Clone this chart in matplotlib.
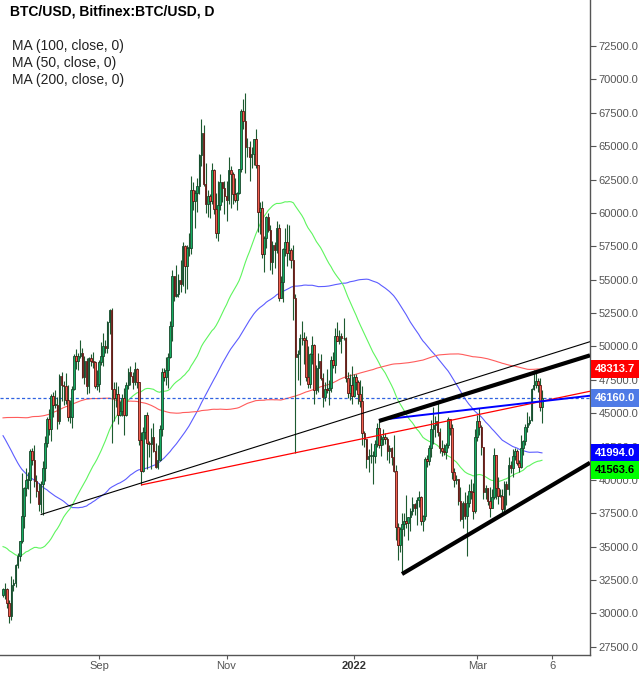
import numpy as np
import pandas as pd
import matplotlib
matplotlib.use("Agg")
import matplotlib.pyplot as plt
import matplotlib.dates as mdates

plt.rcParams['font.family'] = ['Liberation Sans', 'DejaVu Sans']

# ---------------- data (thousand USD) ----------------
# daily closes before the visible window (used only for the moving averages), 2020-12-30 .. 2021-07-16
hist_start = "2020-12-30"
hist_close = [
    28.9, 29.0,
    29.4, 32.2, 33.0, 32.0, 34.0, 36.8, 39.4, 40.6, 40.2, 38.2, 35.5, 34.0, 37.4, 39.2, 36.8,
    36.2, 35.8, 36.6, 36.0, 35.5, 30.8, 33.0, 32.1, 32.3, 32.4, 32.5, 30.4, 33.5, 34.3, 34.3, 33.1,
    33.5, 35.5, 37.7, 36.9, 38.3, 39.3, 38.9, 46.4, 46.5, 44.8, 48.0, 47.4, 47.2, 48.6, 47.9,
    49.2, 52.1, 51.6, 55.9, 55.9, 57.5, 54.2, 48.9, 49.7, 47.1, 46.3, 46.2, 45.1,
    49.6, 48.4, 50.5, 48.4, 48.9, 48.9, 51.2, 52.4, 54.9, 55.9, 57.5, 57.3, 61.2, 59.0, 55.6,
    56.9, 58.9, 57.6, 58.3, 58.1, 57.4, 54.5, 54.3, 52.3, 51.3, 55.1, 55.9, 55.8, 57.6, 58.8, 58.9,
    59.0, 59.1, 57.6, 58.7, 58.9, 58.0, 56.0, 58.1, 58.3, 59.8, 60.2, 59.8, 63.5, 62.9, 63.1,
    61.3, 60.1, 56.2, 55.7, 56.5, 54.0, 51.7, 51.1, 50.0, 49.0, 54.0, 55.0, 54.8, 53.6, 57.7,
    57.8, 56.6, 57.2, 53.2, 57.5, 56.4, 57.4, 58.9, 58.3, 55.8, 56.7, 49.2, 49.7, 49.9, 46.8,
    46.7, 43.5, 42.9, 37.0, 40.8, 37.5, 37.7, 34.7, 38.8, 38.4, 39.3, 38.4, 35.7, 34.6, 35.7, 37.3,
    36.7, 37.6, 39.2, 36.9, 35.5, 35.8, 33.6, 33.4, 37.4, 36.7, 37.3, 35.6, 39.1, 40.5, 40.2,
    38.3, 38.1, 35.8, 35.5, 35.6, 31.7, 32.5, 33.7, 34.7, 31.6, 32.2, 34.6, 34.5, 35.9, 35.0,
    33.6, 33.8, 34.7, 35.3, 33.7, 34.2, 33.9, 32.9, 33.8, 33.5, 34.3, 33.1, 32.7, 32.8, 31.9, 31.4,
]

# visible daily candles, 2021-07-17 .. 2022-04-01
start_date = "2021-07-17"
close = [
    # Jul 17-31
    31.8, 31.8, 30.8, 29.8, 32.1, 32.3, 33.6, 34.3, 35.4, 37.3, 39.4, 40.0, 40.0, 42.2, 41.5,
    # Aug
    39.9, 39.2, 38.2, 39.7, 40.9, 42.8, 44.6, 43.8, 46.3, 45.6, 45.6, 44.4, 47.8, 47.1, 47.0,
    46.0, 44.7, 44.7, 46.8, 49.3, 48.9, 49.3, 49.5, 47.7, 48.9, 47.0, 49.1, 48.9, 48.8, 47.0, 47.2,
    # Sep
    48.8, 49.3, 50.0, 49.9, 51.8, 52.7, 46.8, 46.1, 46.4, 44.9, 45.2, 46.1, 44.9, 47.1, 48.1,
    47.8, 47.3, 48.3, 47.3, 43.0, 40.7, 43.6, 44.9, 42.8, 42.7, 43.2, 42.2, 41.0, 41.5, 43.8,
    # Oct
    48.1, 47.7, 48.2, 49.2, 51.5, 55.3, 53.8, 53.9, 55.0, 54.7, 57.5, 56.0, 57.4, 57.4, 61.7,
    60.9, 61.5, 62.0, 64.3, 66.0, 62.2, 60.7, 61.3, 60.9, 63.2, 60.3, 58.5, 60.6, 62.3, 61.9, 61.3,
    # Nov
    61.0, 63.2, 62.9, 61.4, 61.0, 61.5, 63.3, 67.6, 66.9, 64.9, 64.9, 64.2, 64.4, 65.5, 63.6,
    60.1, 60.4, 56.9, 58.1, 59.7, 58.7, 56.3, 57.6, 57.2, 58.9, 53.6, 54.8, 57.3, 57.8, 57.0,
    # Dec
    57.2, 56.5, 53.6, 49.2, 49.4, 50.6, 50.6, 50.5, 47.7, 47.2, 49.4, 50.1, 46.7, 48.4, 48.9,
    47.6, 46.2, 46.8, 46.7, 46.9, 49.0, 48.6, 50.8, 50.4, 50.8, 50.6, 50.6, 47.6, 46.5, 47.1, 46.3,
    # Jan
    47.7, 47.3, 46.4, 45.9, 43.5, 43.1, 41.6, 41.8, 41.8, 41.8, 42.7, 43.9, 42.6, 43.1, 43.2,
    43.1, 42.2, 42.4, 41.7, 40.7, 36.5, 35.1, 36.3, 36.7, 36.9, 36.8, 37.2, 37.7, 38.2, 37.9, 38.5,
    # Feb
    38.7, 36.9, 37.3, 41.6, 41.4, 42.4, 43.8, 44.1, 44.4, 43.6, 42.4, 42.2, 42.1, 42.6, 44.6,
    43.9, 40.6, 40.0, 40.1, 38.4, 37.1, 38.3, 37.3, 38.3, 39.2, 39.1, 37.7, 43.2,
    # Mar
    44.4, 44.0, 42.5, 39.1, 39.4, 38.4, 37.9, 38.7, 41.9, 39.4, 38.8, 38.8, 37.8, 39.7, 39.3,
    41.1, 40.9, 41.8, 42.2, 41.3, 41.0, 42.4, 42.9, 44.0, 44.3, 44.5, 46.8, 47.1, 47.4, 47.1, 45.5,
    # Apr 1
    46.16,
]
high = [
    31.9, 32.3, 31.9, 31.0, 32.8, 32.6, 33.7, 34.5, 35.4, 40.5, 39.5, 40.9, 40.6, 42.3, 42.4,
    42.6, 40.4, 39.8, 39.9, 41.4, 43.3, 44.7, 45.3, 46.4, 46.6, 46.7, 46.2, 47.9, 48.1, 47.4,
    48.0, 47.1, 46.0, 47.0, 49.4, 49.8, 49.5, 50.5, 49.9, 49.3, 49.1, 49.2, 49.4, 49.6, 48.9, 48.2,
    49.0, 50.3, 51.0, 50.5, 51.9, 52.8, 52.9, 47.3, 47.3, 47.0, 45.9, 46.4, 46.9, 47.3, 48.4,
    48.5, 48.1, 48.8, 48.4, 47.3, 43.6, 44.0, 44.9, 45.1, 42.9, 43.9, 44.3, 42.8, 42.6, 44.1,
    48.4, 48.4, 49.2, 49.5, 51.9, 55.7, 55.3, 56.1, 55.4, 56.5, 57.8, 57.6, 57.6, 58.5, 62.8,
    62.3, 61.7, 62.6, 64.4, 67.0, 66.6, 63.7, 61.7, 61.4, 63.7, 63.3, 61.5, 62.4, 62.9, 62.3, 62.4,
    62.4, 64.2, 63.5, 63.1, 62.6, 61.6, 63.3, 67.8, 68.5, 69.0, 65.6, 65.4, 64.9, 65.5, 66.3,
    63.6, 60.8, 60.9, 58.3, 59.8, 60.0, 59.1, 57.9, 57.8, 59.4, 59.2, 55.3, 57.4, 58.9, 59.2,
    59.1, 57.4, 57.6, 53.9, 49.7, 50.9, 51.9, 51.1, 50.8, 50.0, 49.5, 50.8, 50.2, 48.6, 49.5,
    49.4, 48.0, 47.3, 48.3, 47.5, 49.3, 49.6, 51.4, 51.8, 51.2, 51.0, 52.1, 50.7, 48.1, 47.9, 48.5,
    47.9, 47.9, 47.5, 47.5, 47.0, 43.7, 43.1, 42.3, 42.8, 42.2, 43.0, 44.3, 44.4, 43.4, 43.8,
    43.5, 43.2, 42.6, 42.5, 43.4, 41.1, 36.8, 36.5, 37.5, 37.5, 38.9, 37.2, 37.9, 38.7, 38.3, 38.7,
    39.2, 38.8, 37.4, 41.7, 41.9, 42.6, 44.5, 45.5, 44.8, 45.8, 43.9, 43.0, 42.7, 42.8, 44.7,
    44.6, 44.2, 40.9, 40.4, 40.1, 39.5, 38.4, 39.1, 38.9, 39.7, 40.1, 39.8, 43.8,
    44.9, 45.4, 44.1, 42.5, 39.6, 39.4, 39.5, 39.3, 42.4, 41.9, 40.2, 39.3, 39.3, 39.9, 39.9,
    41.7, 41.4, 42.3, 42.4, 42.3, 41.5, 43.4, 43.0, 44.2, 45.1, 44.8, 46.9, 48.2, 48.1, 47.6, 47.6,
    46.7,
]
low = [
    31.2, 31.1, 30.4, 29.3, 29.5, 31.7, 32.0, 33.4, 33.9, 35.3, 36.4, 38.8, 39.3, 38.3, 41.1,
    39.5, 38.7, 37.7, 37.5, 37.4, 39.9, 42.5, 43.4, 42.9, 44.7, 45.4, 43.8, 44.2, 45.9, 45.6,
    45.7, 44.4, 44.3, 43.9, 46.7, 48.3, 48.2, 49.1, 47.6, 47.2, 46.4, 46.5, 48.5, 48.4, 46.9, 46.7,
    46.6, 48.6, 48.5, 49.5, 49.5, 50.9, 42.8, 44.4, 45.5, 44.2, 44.8, 44.8, 43.4, 44.8, 46.8,
    47.1, 46.8, 47.1, 46.9, 42.6, 39.6, 40.6, 43.1, 40.8, 41.7, 40.8, 42.1, 40.9, 40.8, 41.4,
    43.3, 47.4, 47.1, 46.9, 49.1, 50.4, 53.4, 53.7, 53.7, 54.1, 54.5, 54.0, 54.3, 56.8, 56.9,
    60.2, 58.9, 60.1, 61.4, 63.5, 62.0, 60.0, 59.7, 59.6, 60.7, 59.9, 58.1, 57.9, 60.2, 60.8, 59.9,
    59.4, 60.7, 60.4, 60.7, 60.8, 60.2, 61.4, 63.1, 66.3, 63.0, 64.2, 62.4, 63.4, 63.6, 63.4,
    58.6, 58.4, 56.6, 55.6, 57.4, 58.6, 55.7, 55.4, 55.9, 57.0, 53.4, 53.6, 53.3, 56.8, 56.0,
    56.5, 55.9, 52.0, 42.0, 47.5, 47.1, 50.1, 48.7, 47.4, 46.9, 46.9, 48.7, 45.7, 46.4, 46.6,
    47.5, 45.5, 45.9, 46.5, 45.6, 46.6, 48.4, 48.0, 50.4, 50.2, 49.5, 50.5, 47.3, 46.1, 46.0, 45.7,
    46.2, 46.7, 45.7, 45.5, 42.6, 42.5, 40.9, 40.6, 41.3, 39.7, 41.3, 42.5, 42.4, 41.8, 42.6,
    42.7, 41.5, 41.3, 41.1, 40.6, 35.5, 34.0, 34.6, 33.0, 35.8, 36.4, 35.5, 36.2, 37.4, 37.4, 36.6,
    38.0, 36.6, 36.2, 37.0, 41.0, 41.1, 41.7, 42.7, 43.2, 43.3, 42.0, 41.8, 41.9, 41.6, 42.4,
    43.4, 40.1, 39.5, 39.7, 38.1, 36.9, 36.4, 37.1, 34.3, 38.0, 38.6, 37.1, 37.5,
    42.9, 43.4, 41.9, 38.6, 38.6, 38.1, 37.2, 37.9, 38.6, 38.6, 38.2, 38.7, 37.6, 37.6, 38.1,
    38.9, 40.5, 40.2, 41.5, 41.1, 40.6, 40.9, 41.9, 42.6, 43.6, 44.1, 44.4, 46.7, 46.9, 46.6, 45.2,
    44.3,
]

ma_periods = [100, 50, 200]
ma_labels = ["MA (100, close, 0)", "MA (50, close, 0)", "MA (200, close, 0)"]
ma_colors = ["#5c5cff", "#5ef55e", "#ff5c5c"]
ma_last_text = ["41994.0", "41563.6", "48313.7"]
ma_last_value = [41994.0, 41563.6, 48313.7]
ma_box_colors = ["#0000ff", "#00ff00", "#ff0000"]
ma_box_text = ["white", "black", "white"]

last_price = 46160.0
last_price_text = "46160.0"

# drawn trend lines: (date, price) anchor pairs, extended to the right edge
trend_lines = [
    ("2021-08-04", 37400, "2022-03-21", 48680, "black", 0.8),
    ("2021-09-21", 39620, "2022-04-23", 46610, "#ff0000", 0.9),
    ("2022-01-13", 44490, "2022-04-23", 46290, "#0000ff", 1.4),
    ("2022-01-13", 44414, "2022-04-23", 49283, "black", 3.0),
    ("2022-01-24", 32955, "2022-04-23", 41194, "black", 3.0),
]

x_tick_dates = ["2021-09-01", "2021-11-01", "2022-01-01", "2022-03-01", "2022-04-06"]
x_tick_labels = ["Sep", "Nov", "2022", "Mar", "6"]
y_ticks = list(range(27500, 72501, 2500))

# ---------------- build ----------------
c = np.array(close) * 1000
h = np.array(high) * 1000
l = np.array(low) * 1000
hc = np.array(hist_close) * 1000
o = np.concatenate([[hc[-1]], c[:-1]])
dates = pd.date_range(start_date, periods=len(c), freq="D")
x = mdates.date2num(dates.to_pydatetime())

all_close = pd.Series(np.concatenate([hc, c]))
n_hist = len(hc)

W, H = 643, 674
fig = plt.figure(figsize=(W / 100, H / 100), dpi=100)
ax = fig.add_axes([0, (H - 655) / H, 590 / W, 655 / H])

x0 = mdates.date2num(pd.Timestamp("2021-07-20").to_pydatetime())
ax.set_xlim(x0 - 4.45, x0 + 278.0)
ax.set_ylim(26889, 75945)

# moving averages
for p, col in zip(ma_periods, ma_colors):
    ma = all_close.rolling(p).mean().values[n_hist:]
    ax.plot(x, ma, color=col, lw=0.8, zorder=2)

# current price dashed line
ax.axhline(last_price, color="#2f62e0", lw=0.9, ls=(0, (2.5, 1.8)), zorder=2)

# candles
up = c >= o
wick_col = "#1d5a30"
ax.vlines(x, l, h, color=wick_col, lw=0.8, zorder=3)
body_h = np.maximum(np.abs(c - o), 60)
bottoms = np.minimum(o, c)
ax.bar(x[up], body_h[up], bottom=bottoms[up], width=0.78, color="#14ad62",
       edgecolor="#17472b", linewidth=0.6, zorder=4)
ax.bar(x[~up], body_h[~up], bottom=bottoms[~up], width=0.78, color="#f2604f",
       edgecolor="#5a1512", linewidth=0.6, zorder=4)

# trend lines (rays to the right edge)
xr = ax.get_xlim()[1]
for d1, p1, d2, p2, col, lw in trend_lines:
    xa = mdates.date2num(pd.Timestamp(d1).to_pydatetime())
    xb = mdates.date2num(pd.Timestamp(d2).to_pydatetime())
    slope = (p2 - p1) / (xb - xa)
    ax.plot([xa, xr], [p1, p1 + slope * (xr - xa)], color=col, lw=lw,
            solid_capstyle="butt", zorder=5)

# axes styling
for s in ["left", "top"]:
    ax.spines[s].set_visible(False)
for s in ["right", "bottom"]:
    ax.spines[s].set_color("#555555")
    ax.spines[s].set_linewidth(1.0)

ax.yaxis.tick_right()
ax.set_yticks(y_ticks)
ax.set_yticklabels([f"{v:.1f}" for v in y_ticks])
ax.tick_params(axis="y", colors="#555555", labelcolor="#555555", labelsize=8,
               length=4, width=0.8, pad=2)
xt = [mdates.date2num(pd.Timestamp(d).to_pydatetime()) for d in x_tick_dates]
ax.set_xticks(xt)
ax.set_xticklabels(x_tick_labels)
ax.tick_params(axis="x", colors="#555555", labelcolor="#555555", labelsize=8,
               length=3, width=0.8, pad=1)
for lab in ax.get_xticklabels():
    if lab.get_text() == "2022":
        lab.set_fontweight("bold")
        lab.set_color("#333333")

# price boxes on the right axis (pushed apart when they collide, like the platform does)
boxes = [(last_price, last_price_text, "#4f7be6", "white")]
for v, t, bc, tc in zip(ma_last_value, ma_last_text, ma_box_colors, ma_box_text):
    boxes.append((v, t, bc, tc))
boxes.sort(key=lambda b: -b[0])
gap = 17.0
prev = None
for v, t, bc, tc in boxes:
    ypix = ax.transData.transform((x0, v))[1]
    if prev is not None and prev - ypix < gap:
        ypix = prev - gap
    prev = ypix
    fig.text(595 / W, ypix / H, t, ha="left", va="center", fontsize=8,
             fontweight="bold", color=tc, zorder=10,
             bbox=dict(boxstyle="square,pad=0.35", facecolor=bc, edgecolor="none"))

# title and legend
fig.text(10 / W, 1 - 12 / H, "BTC/USD, Bitfinex:BTC/USD, D", fontsize=10,
         fontweight="bold", color="black", ha="left", va="center")
for i, lab in enumerate(ma_labels):
    fig.text(12 / W, 1 - (46 + 17 * i) / H, lab, fontsize=10, color="#222222",
             ha="left", va="center")

fig.savefig("out.png", dpi=100)
